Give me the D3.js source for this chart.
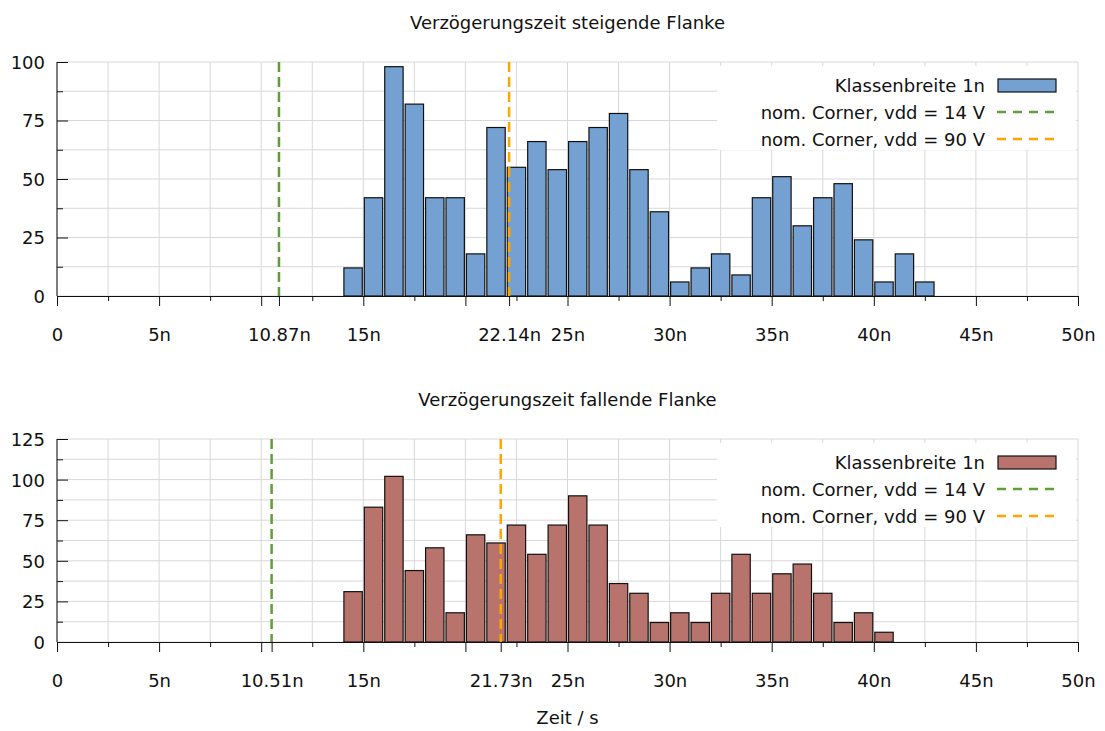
<!DOCTYPE html>
<html>
<head>
<meta charset="utf-8">
<script src="https://cdn.jsdelivr.net/npm/d3@7"></script>
<style>
  body { margin: 0; background: #fff; }
  svg text { font-family: "DejaVu Sans", Verdana, sans-serif; font-size: 18px; fill: #111; }
</style>
</head>
<body>
<svg id="chart" width="1105" height="731"></svg>
<script>
// histogram bins (start of each 1n class, in ns) and counts
const riseStart = [14,15,16,17,18,19,20,21,22,23,24,25,26,27,28,29,30,31,32,33,34,35,36,37,38,39,40,41,42];
const riseCount = [12,42,98,82,42,42,18,72,55,66,54,66,72,78,54,36,6,12,18,9,42,51,30,42,48,24,6,18,6];
const fallStart = [14,15,16,17,18,19,20,21,22,23,24,25,26,27,28,29,30,31,32,33,34,35,36,37,38,39,40];
const fallCount = [31,83,102,44,58,18,66,61,72,54,72,90,72,36,30,12,18,12,30,54,30,42,48,30,12,18,6];

// nominal corner markers (ns)
const riseCorners = [10.87, 22.14];
const fallCorners = [10.51, 21.73];

const xMajor = [0,5,10,15,20,25,30,35,40,45,50];
const xMinor = [2.5,7.5,12.5,17.5,22.5,27.5,32.5,37.5,42.5,47.5];
const legendLabels = ["Klassenbreite 1n", "nom. Corner, vdd = 14 V", "nom. Corner, vdd = 90 V"];

const GREEN = "#5f9f35", ORANGE = "#ffa500";
const svg = d3.select("#chart");
const LEFT = 57, RIGHT = 1078;

function panel(cfg){
  const x = d3.scaleLinear().domain([0, 50]).range([LEFT, RIGHT]);
  const y = d3.scaleLinear().domain([0, cfg.yMax]).range([cfg.bottom, cfg.top]);
  const g = svg.append("g");

  // grid every 2.5n / 12.5 counts
  const gx = xMajor.concat(xMinor);
  const gy = d3.range(0, cfg.yMax + 0.1, 12.5);
  g.append("g").selectAll("line").data(gx).join("line")
    .attr("x1", d => x(d)).attr("x2", d => x(d)).attr("y1", cfg.top).attr("y2", cfg.bottom)
    .attr("stroke", "#d8d8d8").attr("stroke-width", 1);
  g.append("g").selectAll("line").data(gy).join("line")
    .attr("x1", LEFT).attr("x2", RIGHT).attr("y1", d => y(d)).attr("y2", d => y(d))
    .attr("stroke", "#d8d8d8").attr("stroke-width", 1);

  // bars
  g.append("g").selectAll("rect").data(cfg.start.map((s, i) => ({s, c: cfg.count[i]}))).join("rect")
    .attr("x", d => x(d.s + 0.05)).attr("width", x(0.9) - x(0))
    .attr("y", d => y(d.c)).attr("height", d => y(0) - y(d.c))
    .attr("fill", cfg.color).attr("stroke", "#111").attr("stroke-width", 1.2);

  // corner lines
  [GREEN, ORANGE].forEach((col, i) => {
    g.append("line").attr("x1", x(cfg.corners[i])).attr("x2", x(cfg.corners[i]))
      .attr("y1", cfg.top).attr("y2", cfg.bottom)
      .attr("stroke", col).attr("stroke-width", 2.5).attr("stroke-dasharray", "10,5");
  });

  // x axis: major + custom ticks with labels, minor ticks
  const labelled = xMajor.filter(v => v !== 10 && v !== 20);
  const xa = g.append("g").attr("transform", `translate(0,${cfg.bottom})`)
    .call(d3.axisBottom(x).tickValues(xMajor.concat(cfg.corners)).tickSize(10).tickSizeOuter(0)
      .tickFormat(v => labelled.includes(v) || cfg.corners.includes(v) ? (v === 0 ? "0" : v + "n") : ""));
  xa.select(".domain").attr("stroke", "#111");
  xa.selectAll(".tick line").attr("stroke", "#111");
  xa.selectAll(".tick text").attr("y", 45).attr("dy", 0).attr("font-family", null);
  g.append("g").attr("transform", `translate(0,${cfg.bottom})`)
    .call(d3.axisBottom(x).tickValues(xMinor).tickSize(5).tickFormat("").tickSizeOuter(0))
    .call(a => a.select(".domain").remove())
    .selectAll(".tick line").attr("stroke", "#111");

  // y axis, ticks pointing inward
  const ya = g.append("g").attr("transform", `translate(${LEFT},0)`)
    .call(d3.axisLeft(y).tickValues(d3.range(0, cfg.yMax + 0.1, 25)).tickSize(-11).tickSizeOuter(0));
  ya.select(".domain").attr("stroke", "#111").attr("d", `M0,${cfg.top}V${cfg.bottom}`);
  ya.selectAll(".tick line").attr("stroke", "#111");
  ya.selectAll(".tick text").attr("x", -12).attr("dy", "0.36em").attr("font-family", null);
  g.append("g").attr("transform", `translate(${LEFT},0)`)
    .call(d3.axisLeft(y).tickValues(d3.range(12.5, cfg.yMax, 25)).tickSize(-6).tickFormat("").tickSizeOuter(0))
    .call(a => a.select(".domain").remove())
    .selectAll(".tick line").attr("stroke", "#111");

  // title
  g.append("text").attr("x", (LEFT + RIGHT) / 2).attr("y", cfg.top - 33)
    .attr("text-anchor", "middle").text(cfg.title);

  // legend
  const ly = cfg.top + 30;
  g.append("rect").attr("x", 717).attr("y", cfg.top + 4).attr("width", 359).attr("height", 84).attr("fill", "#fff");
  legendLabels.forEach((t, i) => {
    g.append("text").attr("x", 985).attr("y", ly + i * 27).attr("text-anchor", "end").text(t);
  });
  g.append("rect").attr("x", 998).attr("y", ly - 13).attr("width", 58).attr("height", 13)
    .attr("fill", cfg.color).attr("stroke", "#111").attr("stroke-width", 1.2);
  [GREEN, ORANGE].forEach((col, i) => {
    g.append("line").attr("x1", 997).attr("x2", 1058)
      .attr("y1", ly + 27 * (i + 1) - 7).attr("y2", ly + 27 * (i + 1) - 7)
      .attr("stroke", col).attr("stroke-width", 2.5).attr("stroke-dasharray", "9,7");
  });
}

panel({title: "Verzögerungszeit steigende Flanke", top: 62, bottom: 296, yMax: 100,
       start: riseStart, count: riseCount, corners: riseCorners, color: "#74a1d2"});
panel({title: "Verzögerungszeit fallende Flanke", top: 439, bottom: 642, yMax: 125,
       start: fallStart, count: fallCount, corners: fallCorners, color: "#b8746c"});

svg.append("text").attr("x", (LEFT + RIGHT) / 2).attr("y", 724).attr("text-anchor", "middle").text("Zeit / s");
</script>
</body>
</html>
